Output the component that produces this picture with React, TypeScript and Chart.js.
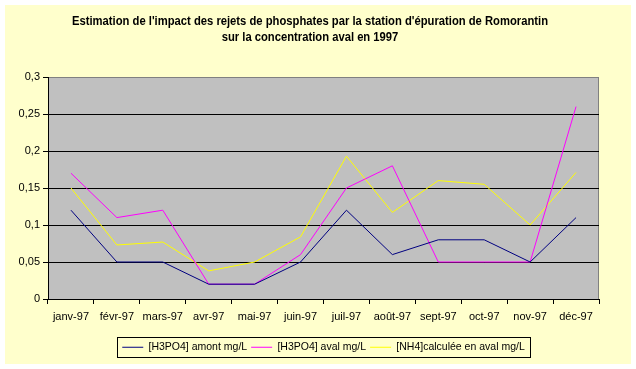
import { useEffect, useRef } from 'react';
import { Chart, registerables } from 'chart.js';

Chart.register(...registerables);

const months = ['janv-97', 'févr-97', 'mars-97', 'avr-97', 'mai-97', 'juin-97', 'juil-97', 'août-97', 'sept-97', 'oct-97', 'nov-97', 'déc-97'];
const amont = [0.12, 0.05, 0.05, 0.02, 0.02, 0.05, 0.12, 0.06, 0.08, 0.08, 0.05, 0.11];
const aval = [0.17, 0.11, 0.12, 0.02, 0.02, 0.06, 0.15, 0.18, 0.05, 0.05, 0.05, 0.26];
const nh4 = [0.15, 0.073, 0.077, 0.038, 0.05, 0.084, 0.193, 0.117, 0.16, 0.155, 0.1, 0.171];
const yTickLabels = ['0', '0,05', '0,1', '0,15', '0,2', '0,25', '0,3'];
const seriesNames = ['[H3PO4] amont mg/L', '[H3PO4] aval mg/L', '[NH4]calculée en aval mg/L'];
const titleLines = [
  "Estimation de l'impact des rejets de phosphates par la station d'épuration de Romorantin",
  'sur la concentration aval en 1997',
];

const bgPlugin = {
  id: 'bgPlugin',
  beforeDraw(chart: any) {
    const { ctx, chartArea: a } = chart;
    ctx.save();
    ctx.fillStyle = '#ffffff';
    ctx.fillRect(0, 0, chart.width, chart.height);
    ctx.fillStyle = '#ffffcc';
    ctx.fillRect(5, 5, 626, 359);
    ctx.fillStyle = '#c0c0c0';
    ctx.fillRect(a.left, a.top, a.right - a.left, a.bottom - a.top);
    ctx.strokeStyle = '#808080';
    ctx.lineWidth = 1;
    ctx.strokeRect(Math.round(a.left) + 0.5, Math.round(a.top) + 0.5, Math.round(a.right - a.left) - 1, Math.round(a.bottom - a.top));
    ctx.restore();
  },
  afterDraw(chart: any) {
    const { ctx } = chart;
    // title (compressed bold text, like the original narrow font)
    ctx.save();
    ctx.font = "bold 12px 'Liberation Sans', Arial, sans-serif";
    ctx.fillStyle = '#000000';
    ctx.textAlign = 'center';
    ctx.textBaseline = 'middle';
    const w0 = ctx.measureText(titleLines[0]).width;
    const sx = 476 / w0;
    titleLines.forEach((t, i) => {
      ctx.save();
      ctx.translate(310, 22 + i * 16);
      ctx.scale(sx, 1);
      ctx.fillText(t, 0, 0);
      ctx.restore();
    });
    ctx.restore();

    // legend frame
    const lg = chart.legend;
    if (!lg || !lg.legendHitBoxes || !lg.legendHitBoxes.length) return;
    const hb = lg.legendHitBoxes;
    const first = hb[0];
    const last = hb[hb.length - 1];
    const left = Math.round(first.left - 5) + 0.5;
    const right = Math.round(last.left + last.width + 5) + 0.5;
    const top = Math.round(first.top - 5) + 0.5;
    const bottom = Math.round(first.top + first.height + 4) + 0.5;
    ctx.save();
    ctx.strokeStyle = '#000000';
    ctx.lineWidth = 1;
    ctx.strokeRect(left, top, right - left, bottom - top);
    ctx.restore();
  },
};

export default function App() {
  const ref = useRef<HTMLCanvasElement | null>(null);
  useEffect(() => {
    if (!ref.current) return;
    Chart.defaults.font.family = "'Liberation Sans', Arial, sans-serif";
    Chart.defaults.font.size = 11;
    Chart.defaults.color = '#000000';
    const chart = new Chart(ref.current, {
      type: 'line',
      data: {
        labels: months,
        datasets: [
          { label: seriesNames[0], data: amont, borderColor: '#000080', backgroundColor: '#000080', borderWidth: 1, pointRadius: 0, tension: 0 },
          { label: seriesNames[1], data: aval, borderColor: '#ff00ff', backgroundColor: '#ff00ff', borderWidth: 1, pointRadius: 0, tension: 0 },
          { label: seriesNames[2], data: nh4, borderColor: '#ffff00', backgroundColor: '#ffff00', borderWidth: 1, pointRadius: 0, tension: 0 },
        ],
      },
      options: {
        responsive: false,
        animation: false,
        devicePixelRatio: 1,
        layout: { padding: { left: 0, right: 37, top: 77, bottom: 6.5 } },
        plugins: {
          tooltip: { enabled: false },
          title: { display: false },
          legend: {
            display: true,
            position: 'bottom',
            fullSize: false,
            labels: {
              usePointStyle: true,
              pointStyle: 'line',
              pointStyleWidth: 21,
              padding: 4,
              color: '#000000',
              font: { size: 10.5 },
            },
          },
        },
        scales: {
          x: {
            offset: true,
            grid: { offset: true, drawOnChartArea: false, drawTicks: true, tickLength: 5, color: '#000000', tickColor: '#000000' },
            border: { color: '#000000' },
            ticks: { padding: 6, maxRotation: 0, autoSkip: false, color: '#000000' },
            afterFit: (s: any) => { s.height = 39; },
          },
          y: {
            min: 0,
            max: 0.3,
            ticks: { stepSize: 0.05, padding: 3, color: '#000000', callback: (_v: any, i: number) => yTickLabels[i] },
            grid: {
              color: (c: any) => (c.tick && c.tick.value >= 0.299 ? '#808080' : '#000000'),
              tickColor: '#000000',
              tickLength: 5,
            },
            border: { color: '#000000' },
            afterFit: (s: any) => { s.width = 48; },
          },
        },
      },
      plugins: [bgPlugin],
    } as any);
    return () => chart.destroy();
  }, []);
  return (
    <div style={{ position: 'fixed', left: 0, top: 0, width: 636, height: 369 }}>
      <canvas ref={ref} width={636} height={369} />
    </div>
  );
}
